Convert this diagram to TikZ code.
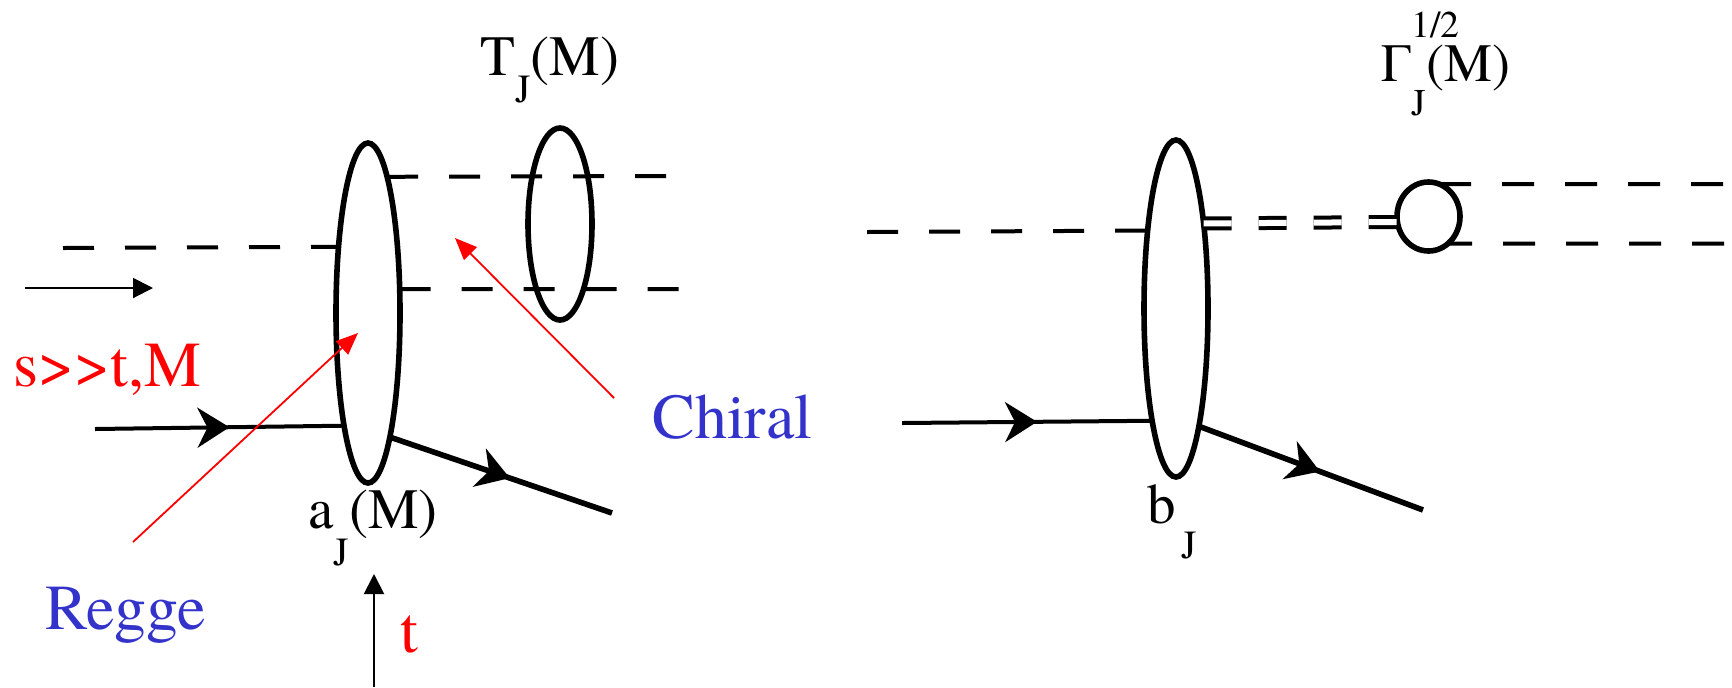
\documentclass[tikz,border=0pt]{standalone}
\usepackage{fontspec}
\setmainfont{texgyretermes}[Extension=.otf,UprightFont=*-regular,
  BoldFont=*-bold,ItalicFont=*-italic,BoldItalicFont=*-bolditalic]
\usepackage{tikz}
\usetikzlibrary{arrows.meta,shapes.geometric,decorations.markings}
\definecolor{regred}{RGB}{255,0,0}
\definecolor{regblue}{RGB}{51,51,204}
\newcommand{\lowJ}[1]{\raisebox{-#1}{\scalebox{0.7}{J}}}

\begin{document}
\begin{tikzpicture}[x=0.5pt,y=-0.5pt,
  blob/.style={draw,ellipse,line width=2.8pt,inner sep=0pt,outer sep=0pt},
  scal/.style={line width=2pt,dash pattern=on 15.5pt off 15.5pt},
  fermion/.style={line width=#1,postaction={decorate},
    decoration={markings,mark=at position 0.54 with
      {\arrow{Stealth[length=16pt,width=20pt,inset=5pt]}}}},
  thinarr/.style={line width=1pt,-{Triangle[length=10pt,width=10pt]}},
  pointer/.style={regred,line width=0.9pt,-{Triangle[length=11pt,width=9pt]}},
  annot/.style={font=\fontsize{32}{38}\selectfont,inner sep=0pt,anchor=base west},
  blabel/.style={font=\fontsize{28.5}{34}\selectfont,inner sep=0pt,anchor=base west}]

  \useasboundingbox (0,0) rectangle (1732,687);

  %,  Left diagram: blobs, 
  \node[blob,minimum width=32pt,minimum height=170pt] (ellA) at (368,313) {};
  \node[blob,minimum width=32pt,minimum height=96pt] (ellT) at (560,224) {};

  %,  Left diagram: scalar lines, 
  \coordinate (sL) at (63,248);
  \coordinate (sU) at (674,176);
  \coordinate (sD) at (682,289);
  \draw[scal] (sL) -- (ellA.114.5);
  \draw[scal] (ellA.82.1) -- (sU);
  \draw[scal] (ellA.37.2) -- (sD);

  %,  Left diagram: fermion lines, 
  \coordinate (inA) at (95,429);
  \coordinate (outA) at (612,513);
  \draw[fermion=2pt] (inA) -- (ellA.258.6);
  \draw[fermion=2.8pt] (ellA.280.9) -- (outA);

  %,  Left diagram: arrows and labels, 
  \coordinate (sArrL) at (25,288);
  \coordinate (sArrR) at (153,288);
  \draw[thinarr] (sArrL) -- (sArrR);
  \coordinate (tArrB) at (374,687);
  \coordinate (tArrT) at (374,574);
  \draw[thinarr] (tArrB) -- (tArrT);
  \coordinate (reggeFrom) at (133,542);
  \coordinate (reggeTo) at (358,333);
  \draw[pointer] (reggeFrom) -- (reggeTo);
  \coordinate (chiralFrom) at (614,398);
  \coordinate (chiralTo) at (455,238);
  \draw[pointer] (chiralFrom) -- (chiralTo);

  \node[annot,regred] (labS) at (13,386) {s>\kern0pt>t,M};
  \node[annot,regblue] (labRegge) at (45,629) {Regge};
  \node[annot,regblue] (labChiral) at (652,438) {Chiral};
  \node[annot,regred] (labt) at (400,652) {t};
  \node[blabel] (labTJ) at (480,75) {T\lowJ{0.49em}(M)};
  \node[blabel] (labaJ) at (308,528) {a\lowJ{0.65em}(M)};

  %,  Right diagram: blobs, 
  \node[blob,minimum width=32pt,minimum height=168.5pt] (ellB) at (1176,308.5) {};
  \node[blob,minimum width=31.5pt,minimum height=34.5pt] (circG) at (1428.5,216.5) {};

  %,  Right diagram: scalar lines, 
  \coordinate (sL2) at (867,232);
  \coordinate (sU2) at (1724,184);
  \coordinate (sD2) at (1724,243.5);
  \draw[scal] (sL2) -- (ellB.110.4);
  \draw[scal,line width=2pt,double,double distance=3pt,
        dash pattern=on 14pt off 13.5pt] (ellB.72.4) -- (circG.190);
  \draw[scal,dash pattern=on 16pt off 15.5pt] (circG.72) -- (sU2);
  \draw[scal,dash pattern=on 16pt off 15.5pt,dash phase=4pt] (circG.306) -- (sD2);

  %,  Right diagram: fermion lines, 
  \coordinate (inB) at (902,423);
  \coordinate (outB) at (1423,510);
  \draw[fermion=2pt] (inB) -- (ellB.258.4);
  \draw[fermion=2.8pt] (ellB.281) -- (outB);

  \node[blabel] (labbJ) at (1147,523) {b\kern0.1em\lowJ{0.62em}};
  \node[blabel,font=\fontsize{27}{32}\selectfont] (labGam) at (1381,81)
    {Γ\rlap{\raisebox{0.8em}{\scalebox{0.7}{1/2}}}\lowJ{0.64em}(M)};

\end{tikzpicture}
\end{document}
